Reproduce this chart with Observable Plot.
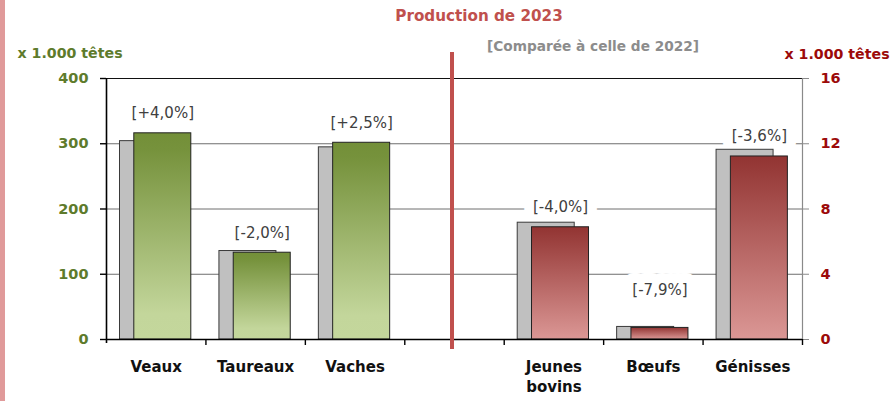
<!DOCTYPE html>
<html>
<head>
<meta charset="utf-8">
<script src="https://cdn.jsdelivr.net/npm/d3@7"></script>
<script src="https://cdn.jsdelivr.net/npm/@observablehq/plot@0.6"></script>
<style>
  body { margin: 0; background: #fff; }
  #chart { position: relative; width: 894px; height: 401px; overflow: hidden; font-family: "DejaVu Sans", sans-serif; }
  #chart svg { position: absolute; left: 0; top: 0; }
  .txt { position: absolute; font-weight: bold; white-space: nowrap; line-height: 1; transform: translate(-50%, -50%); }
  .band { position: absolute; left: 0; top: 0; width: 5px; height: 401px; background: #e09a9a; }
  .divider { position: absolute; left: 449.5px; top: 52px; width: 4px; height: 297px; background: #c0504d; z-index: 2; }
</style>
</head>
<body>
<div id="chart">
  <div class="band"></div>
  <div class="divider"></div>
  <div class="txt" style="left:479px;top:17px;font-size:15.2px;color:#c0504d;">Production de 2023</div>
  <div class="txt" style="left:593px;top:47px;font-size:13.7px;color:#8c8c8c;">[Comparée à celle de 2022]</div>
  <div class="txt" style="left:70px;top:53px;font-size:14.2px;color:#5e7b2c;">x 1.000 têtes</div>
  <div class="txt" style="left:837px;top:54px;font-size:14.2px;color:#9c0a0a;">x 1.000 têtes</div>
</div>
<script>
// Cattle production, thousands of head: 2022 vs 2023
const leftCategories = ["Veaux", "Taureaux", "Vaches"];
const left2022 = [304, 135.6, 294.5];
const left2023 = [316, 133, 301.5];
const leftChange = ["+4,0%", "-2,0%", "+2,5%"];

const rightCategories = ["Jeunes bovins", "Bœufs", "Génisses"];
const right2022 = [7.16, 0.77, 11.63];
const right2023 = [6.88, 0.71, 11.22];
const rightChange = ["-4,0%", "-7,9%", "-3,6%"];

// x slots (one empty slot separates the two groups) and their tick labels
const categories = ["Veaux", "Taureaux", "Vaches", "gap", "Jeunes bovins", "Bœufs", "Génisses"];
const tickLabels = ["Veaux", "Taureaux", "Vaches", "", "Jeunes\nbovins", "Bœufs", "Génisses"];

const leftTicks = [0, 100, 200, 300, 400];
const rightTicks = [0, 4, 8, 12, 16];

const W = 894, H = 401, mL = 106, mR = 92, mT = 78, mB = 62;
const bw = (W - mL - mR) / categories.length;
const k = leftTicks[leftTicks.length - 1] / rightTicks[rightTicks.length - 1]; // right units -> left units

const barW = 57, lead = 13.5, shift = 14.3;
const prevInset = { insetLeft: lead, insetRight: bw - lead - barW };
const curInset = { insetLeft: lead + shift, insetRight: bw - lead - shift - barW };
const labelDx = lead + shift + barW / 2 - bw / 2;

const rows = [
  ...leftCategories.map((c, i) => ({ cat: c, prev: left2022[i], cur: left2023[i], change: leftChange[i], side: "left" })),
  ...rightCategories.map((c, i) => ({ cat: c, prev: right2022[i] * k, cur: right2023[i] * k, change: rightChange[i], side: "right" }))
];

const olive = "#5e7b2c", darkRed = "#9c0a0a";

function gradients() {
  const defs = d3.create("svg:defs");
  const add = (id, stops) => {
    const g = defs.append("linearGradient").attr("id", id)
      .attr("x1", 0).attr("y1", 0).attr("x2", 0).attr("y2", 1);
    for (const [o, c] of stops) g.append("stop").attr("offset", o).attr("stop-color", c);
  };
  add("gradGreen", [[0, "#738f38"], [0.08, "#76923c"], [0.88, "#c3d69b"], [1, "#c4d79c"]]);
  add("gradRed", [[0, "#923432"], [1, "#db9795"]]);
  return defs.node();
}

// labels sit above the 2023 bar; very short bars keep their label clear of the axis
const labelY = d => Math.max(d.cur, 45);
const labelText = d => `[${d.change}]`;

const plot = Plot.plot({
  width: W, height: H,
  marginLeft: mL, marginRight: mR, marginTop: mT, marginBottom: mB,
  style: { fontFamily: "DejaVu Sans, sans-serif", background: "transparent", overflow: "visible" },
  x: { type: "band", domain: categories, padding: 0, round: false },
  y: { domain: [0, 400] },
  marks: [
    gradients,
    Plot.ruleY([100, 200, 300], { stroke: "#6e6e6e", strokeWidth: 1 }),
    Plot.ruleY([400], { stroke: "#111", strokeWidth: 1 }),
    // white boxes behind the change labels
    Plot.text(rows, { x: "cat", y: labelY, text: labelText, dx: labelDx, dy: -20, fontSize: 15,
      fill: "white", stroke: "white", strokeWidth: 20, lineAnchor: "middle" }),
    Plot.barY(rows, { x: "cat", y: "prev", fill: "#c0c0c0", stroke: "#3a3a3a", strokeWidth: 1, ...prevInset }),
    Plot.barY(rows.filter(d => d.side === "left"), { x: "cat", y: "cur", fill: "url(#gradGreen)", stroke: "#222", strokeWidth: 1, ...curInset }),
    Plot.barY(rows.filter(d => d.side === "right"), { x: "cat", y: "cur", fill: "url(#gradRed)", stroke: "#222", strokeWidth: 1, ...curInset }),
    Plot.text(rows, { x: "cat", y: labelY, text: labelText, dx: labelDx, dy: -20, fontSize: 15,
      fill: "#404040", lineAnchor: "middle" }),
    // axis lines
    Plot.ruleX([categories[categories.length - 1]], { dx: bw / 2, stroke: "#8a8a8a", strokeWidth: 1.2 }),
    Plot.ruleX([categories[0]], { dx: -bw / 2, stroke: "#000", strokeWidth: 1.6, insetBottom: -4 }),
    Plot.ruleY([0], { stroke: "#000", strokeWidth: 1.6 }),
    // left axis
    Plot.axisY({ anchor: "left", ticks: leftTicks, tickSize: 6, tickFormat: () => "", color: "#000", strokeWidth: 1.4, label: null }),
    Plot.axisY({ anchor: "left", ticks: leftTicks, tickSize: 0, tickPadding: 18, color: olive,
      fontSize: 14.5, fontWeight: "bold", label: null }),
    // right axis (same positions, right-hand units)
    Plot.axisY({ anchor: "right", ticks: rightTicks.map(v => v * k), tickSize: 6, tickFormat: () => "", color: "#8a8a8a", label: null }),
    Plot.axisY({ anchor: "right", ticks: rightTicks.map(v => v * k), tickSize: 0, tickPadding: 18,
      tickFormat: d => d / k, color: darkRed, fontSize: 14.5, fontWeight: "bold", label: null }),
    // bottom axis: ticks on slot boundaries, labels centred on slots
    Plot.axisX({ anchor: "bottom", tickSize: 6, tickFormat: () => "", dx: bw / 2, color: "#000", strokeWidth: 1.4, label: null }),
    Plot.axisX({ anchor: "bottom", tickSize: 0, tickPadding: 18, tickFormat: d => tickLabels[categories.indexOf(d)],
      color: "#111", fontSize: 15, fontWeight: "bold", lineHeight: 1.33, label: null })
  ]
});

document.getElementById("chart").appendChild(plot);
</script>
</body>
</html>
